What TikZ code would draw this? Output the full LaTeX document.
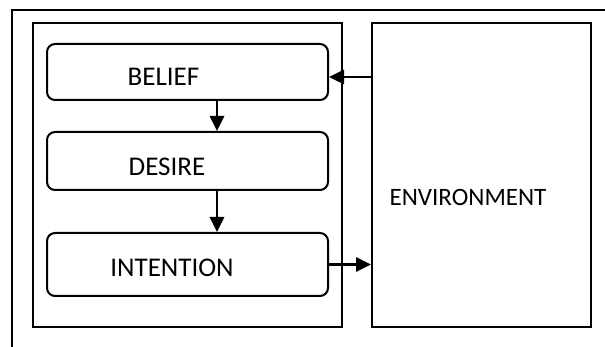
\documentclass[tikz,border=0pt]{standalone}
\usepackage{fontspec}
\setmainfont{Carlito}
\usetikzlibrary{arrows.meta, positioning}
\tikzstyle{arrow} = [line width=2.8pt, -{Triangle[length=15pt,width=14pt]}]
\tikzstyle{block} = [rectangle, draw, line width=2pt, rounded corners=8pt, minimum width=281pt, inner sep=0pt]
\tikzstyle{frame} = [rectangle, draw, line width=2pt, inner sep=0pt, minimum height=304pt]
\tikzset{every node/.style={align=center, font=\fontsize{27}{32}\selectfont}}

\begin{document}
\begin{tikzpicture}[x=1pt, y=-1pt]
    \useasboundingbox (0,0) rectangle (605,347);
    \draw [line width=2pt] (12,347) -- (12,10) -- (605,10);

    \node (agent)     at (187.5,175)   [frame, minimum width=309pt] {};
    \node (env)       at (481.5,175)   [frame, minimum width=219pt,
                                        label={[xshift=-13.5pt, yshift=-22.5pt, font=\fontsize{25}{30}\selectfont]center:ENVIRONMENT}] {};
    \node (belief)    at (187.5,72)    [block, minimum height=56pt,
                                        label={[xshift=-24pt, yshift=-4.5pt]center:BELIEF}] {};
    \node (desire)    at (187.5,161)   [block, minimum height=58pt,
                                        label={[xshift=-20.5pt, yshift=-6pt]center:DESIRE}] {};
    \node (intention) at (187.5,264.5) [block, minimum height=63pt,
                                        label={[xshift=-15.5pt, yshift=-3.5pt]center:INTENTION}] {};

    \draw [arrow] ([yshift=-5pt]belief.east -| env.west) -- ([yshift=-5pt]belief.east);
    \draw [arrow] ([xshift=29.5pt]belief.south) -- ([xshift=29.5pt]desire.north);
    \draw [arrow] ([xshift=29.5pt]desire.south) -- ([xshift=29.5pt]intention.north);
    \draw [arrow] (intention.east) -- (intention.east -| env.west);
\end{tikzpicture}
\end{document}
